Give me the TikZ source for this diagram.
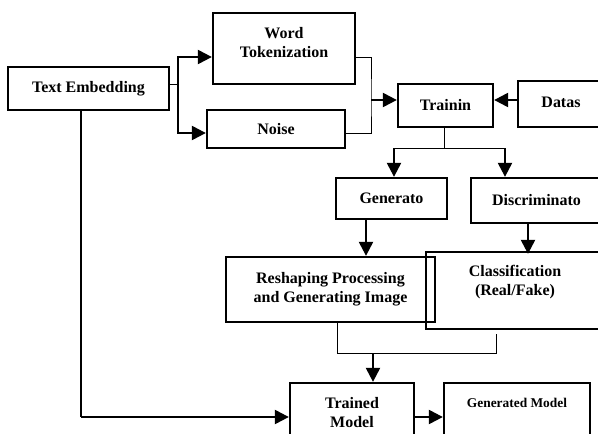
\documentclass[tikz,border=0pt]{standalone}
\usepackage{fontspec}
\setmainfont{Liberation Serif}
\usetikzlibrary{arrows.meta}
\begin{document}
\begin{tikzpicture}[x=1pt,y=-1pt,
  box/.style={draw,line width=2.3pt,inner sep=0pt},
  lbl/.style={font=\fontsize{16}{19}\selectfont\bfseries,align=center,inner sep=0pt},
  lblsmall/.style={font=\fontsize{13.4}{16}\selectfont\bfseries,align=center,inner sep=0pt},
  conn/.style={line width=2.3pt},
  thinconn/.style={line width=0.9pt},
  arr/.style={conn,-{Triangle[length=14pt,width=14pt]}}
]
\useasboundingbox (0,0) rectangle (598,434);

% boxes
\node[box,lbl,minimum width=161pt,minimum height=43pt] (te) at (88.5,88.5) {Text Embedding};
\node[box,minimum width=142pt,minimum height=71pt] (wt) at (284,48.5) {};
\node[lbl] (wtt) at (284,42.5) {Word\\Tokenization};
\node[box,lbl,minimum width=138pt,minimum height=38pt] (noise) at (276,129) {Noise};
\node[box,lbl,minimum width=95pt,minimum height=43pt] (tr) at (445.5,105.5) {Trainin};
\node[box,minimum width=92pt,minimum height=46pt] (da) at (564,104) {};
\node[lbl] (dat) at (561,102) {Datas};
\node[box,lbl,minimum width=111pt,minimum height=41pt] (ge) at (391.5,198.5) {Generato};
\node[box,lbl,minimum width=131pt,minimum height=45pt] (di) at (536.5,200.5) {Discriminato};
\node[box,minimum width=178pt,minimum height=77pt] (cl) at (515,290.5) {};
\node[lbl] (clt) at (515,282.5) {Classification\\(Real/Fake)};
\node[box,lbl,minimum width=209pt,minimum height=65pt] (rs) at (330.5,289.5) {Reshaping Processing\\and Generating Image};
\node[box,minimum width=124pt,minimum height=67pt] (tm) at (352,416.5) {};
\node[lbl] (tmt) at (352,413) {Trained\\Model};
\node[box,minimum width=146pt,minimum height=67pt] (gm) at (517,416.5) {};
\node[lblsmall] (gmt) at (517,403) {Generated Model};

% junction points
\coordinate (br) at (178,84);
\coordinate (mg) at (371,100);
\coordinate (ts) at (444,148);
\coordinate (gl) at (394,148);
\coordinate (dr) at (505,148);
\coordinate (ga) at (366,0);
\coordinate (dx) at (528,0);
\coordinate (ml) at (337,353);
\coordinate (mr) at (496,353);
\coordinate (md) at (373,353);
\coordinate (tex) at (81,0);
\coordinate (bc) at (81,417);

% Text Embedding branches into Word Tokenization and Noise
\draw[thinconn] (te.east |- br) -- (br);
\draw[arr] (br) |- ([yshift=-8.5pt]wt.west);
\draw[arr] (br) |- ([yshift=-4pt]noise.west);

% Word Tokenization and Noise merge into Training
\draw[thinconn] ([yshift=-8.5pt]wt.east) -| (mg) |- ([yshift=-4pt]noise.east);
\draw[arr] (mg) -- (tr.west |- mg);
\draw[arr] (da.west |- mg) -- (tr.east |- mg);

% Training splits into Generator and Discriminator
\draw[thinconn] (tr.south -| ts) -- (ts);
\draw[thinconn] (gl) -- (dr);
\draw[arr] (gl) -- (gl |- ge.north);
\draw[arr] (dr) -- (dr |- di.north);

% Generator and Discriminator outputs
\draw[arr] (ga |- ge.south) -- (ga |- rs.north);
\draw[arr] (dx |- di.south) -- ([yshift=-3pt]dx |- cl.north);

% merge into Trained Model
\draw[thinconn] (ml |- rs.south) -- (ml) -- (mr) -- ([yshift=-4pt]mr |- cl.south);
\draw[arr] (md) -- (md |- tm.north);

% Text Embedding straight to Trained Model
\draw[conn] (tex |- te.south) -- (bc);
\draw[arr] (bc) -- (tm.west |- bc);
\draw[arr] (tm.east |- bc) -- (gm.west |- bc);
\end{tikzpicture}
\end{document}
